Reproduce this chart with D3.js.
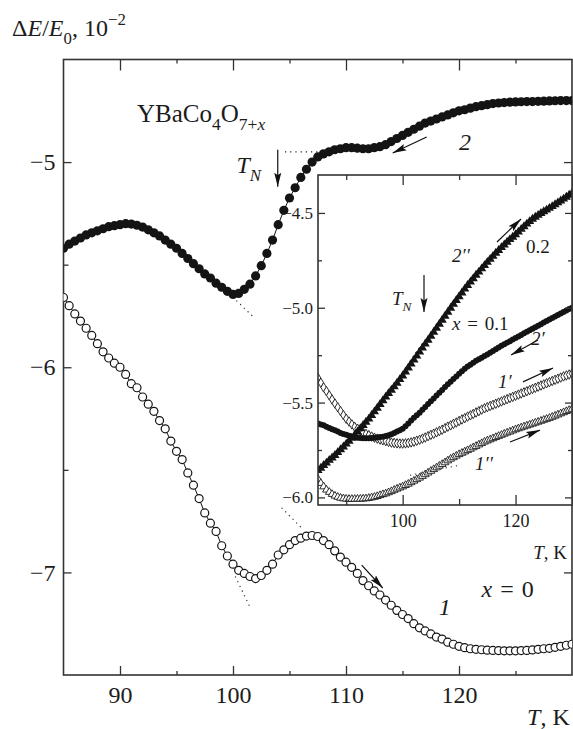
<!DOCTYPE html>
<html><head><meta charset="utf-8">
<script src="https://cdn.jsdelivr.net/npm/d3@7"></script>
<style>
body{margin:0;background:#fff}
svg{display:block}
text{font-family:"Liberation Serif","Times New Roman",serif;fill:#1c1c1c}
</style>
</head><body>
<svg id="c" width="573" height="729"></svg>
<script>
// ---------- data ----------
const temps = [85,85.5,86,86.5,87,87.5,88,88.5,89,89.5,90,90.5,91,91.5,92,92.5,93,93.5,94,94.5,
  95,95.5,96,96.5,97,97.5,98,98.5,99,99.5,100,100.5,101,101.5,102,102.5,103,103.5,104,104.5,
  105,105.5,106,106.5,107,107.5,108,108.5,109,109.5,110,110.5,111,111.5,112,112.5,113,113.5,114,114.5,
  115,115.5,116,116.5,117,117.5,118,118.5,119,119.5,120,120.5,121,121.5,122,122.5,123,123.5,124,124.5,
  125,125.5,126,126.5,127,127.5,128,128.5,129,129.5,130];

// main panel, x = 0
const curve2 = [-5.42,-5.40,-5.385,-5.37,-5.355,-5.345,-5.335,-5.325,-5.315,-5.31,
  -5.305,-5.30,-5.302,-5.308,-5.317,-5.33,-5.345,-5.36,-5.38,-5.40,
  -5.42,-5.445,-5.47,-5.495,-5.52,-5.545,-5.565,-5.59,-5.61,-5.63,
  -5.645,-5.64,-5.62,-5.595,-5.555,-5.505,-5.445,-5.38,-5.305,-5.235,
  -5.175,-5.125,-5.075,-5.035,-5.00,-4.975,-4.96,-4.95,-4.94,-4.935,
  -4.93,-4.93,-4.932,-4.935,-4.935,-4.93,-4.925,-4.915,-4.90,-4.885,
  -4.87,-4.855,-4.84,-4.825,-4.81,-4.80,-4.79,-4.78,-4.77,-4.76,
  -4.75,-4.745,-4.737,-4.73,-4.725,-4.72,-4.715,-4.712,-4.71,-4.708,
  -4.707,-4.706,-4.705,-4.705,-4.704,-4.703,-4.702,-4.701,-4.70,-4.70,
  -4.70];
const curve1 = [-5.66,-5.70,-5.74,-5.775,-5.81,-5.845,-5.885,-5.925,-5.955,-5.98,
  -6.00,-6.035,-6.08,-6.10,-6.145,-6.18,-6.215,-6.26,-6.30,-6.36,
  -6.41,-6.45,-6.515,-6.575,-6.64,-6.71,-6.76,-6.80,-6.87,-6.92,
  -6.96,-6.99,-7.005,-7.02,-7.03,-7.015,-6.99,-6.96,-6.915,-6.89,
  -6.865,-6.845,-6.833,-6.823,-6.82,-6.825,-6.845,-6.865,-6.895,-6.925,
  -6.95,-6.975,-7.005,-7.04,-7.065,-7.09,-7.11,-7.135,-7.16,-7.185,
  -7.205,-7.225,-7.25,-7.27,-7.285,-7.30,-7.315,-7.325,-7.34,-7.35,
  -7.36,-7.367,-7.372,-7.375,-7.377,-7.379,-7.38,-7.381,-7.382,-7.382,
  -7.382,-7.381,-7.38,-7.378,-7.375,-7.372,-7.37,-7.365,-7.36,-7.355,
  -7.35];

// inset panel
const inset2pp = [-5.858,-5.845,-5.831,-5.818,-5.804,-5.791,-5.778,-5.763,-5.748,-5.733,
  -5.718,-5.703,-5.687,-5.671,-5.654,-5.637,-5.62,-5.603,-5.586,-5.567,
  -5.548,-5.529,-5.509,-5.489,-5.47,-5.452,-5.434,-5.416,-5.397,-5.378,
  -5.359,-5.338,-5.317,-5.296,-5.275,-5.254,-5.233,-5.212,-5.191,-5.17,
  -5.149,-5.128,-5.107,-5.086,-5.065,-5.044,-5.023,-5.002,-4.981,-4.961,
  -4.941,-4.921,-4.901,-4.882,-4.864,-4.846,-4.828,-4.811,-4.794,-4.777,
  -4.76,-4.744,-4.728,-4.712,-4.697,-4.682,-4.668,-4.654,-4.64,-4.627,
  -4.614,-4.6,-4.586,-4.572,-4.558,-4.545,-4.532,-4.522,-4.512,-4.502,
  -4.493,-4.484,-4.475,-4.466,-4.456,-4.446,-4.436,-4.426,-4.416,-4.406,
  -4.396];
const inset2p = [-5.61,-5.615,-5.62,-5.627,-5.634,-5.64,-5.646,-5.653,-5.66,-5.665,
  -5.67,-5.675,-5.68,-5.683,-5.685,-5.687,-5.688,-5.688,-5.688,-5.687,
  -5.686,-5.684,-5.682,-5.68,-5.676,-5.672,-5.667,-5.66,-5.653,-5.646,
  -5.638,-5.625,-5.61,-5.595,-5.58,-5.567,-5.553,-5.538,-5.523,-5.508,
  -5.493,-5.478,-5.463,-5.448,-5.433,-5.418,-5.403,-5.39,-5.376,-5.362,
  -5.348,-5.335,-5.322,-5.31,-5.30,-5.29,-5.28,-5.272,-5.263,-5.255,
  -5.246,-5.237,-5.228,-5.219,-5.21,-5.20,-5.192,-5.184,-5.176,-5.168,
  -5.16,-5.152,-5.143,-5.135,-5.127,-5.119,-5.111,-5.103,-5.095,-5.087,
  -5.078,-5.07,-5.062,-5.054,-5.046,-5.038,-5.03,-5.022,-5.014,-5.007,
  -5.00];
const inset1p = [-5.37,-5.395,-5.42,-5.44,-5.462,-5.484,-5.505,-5.525,-5.545,-5.566,
  -5.585,-5.60,-5.615,-5.628,-5.638,-5.648,-5.657,-5.665,-5.672,-5.679,
  -5.685,-5.69,-5.695,-5.699,-5.703,-5.707,-5.711,-5.713,-5.715,-5.716,
  -5.716,-5.715,-5.713,-5.71,-5.706,-5.701,-5.696,-5.69,-5.684,-5.677,
  -5.67,-5.664,-5.657,-5.65,-5.643,-5.635,-5.627,-5.62,-5.612,-5.605,
  -5.597,-5.589,-5.582,-5.574,-5.567,-5.56,-5.552,-5.545,-5.537,-5.53,
  -5.524,-5.518,-5.512,-5.506,-5.50,-5.494,-5.488,-5.482,-5.476,-5.47,
  -5.464,-5.458,-5.452,-5.446,-5.44,-5.434,-5.428,-5.422,-5.416,-5.41,
  -5.404,-5.398,-5.392,-5.386,-5.38,-5.374,-5.368,-5.362,-5.357,-5.352,
  -5.347];
const inset1pp = [-5.903,-5.925,-5.943,-5.96,-5.972,-5.983,-5.992,-5.998,-6.003,-6.006,
  -6.008,-6.009,-6.009,-6.009,-6.008,-6.008,-6.007,-6.006,-6.004,-6.001,
  -5.998,-5.994,-5.989,-5.984,-5.98,-5.974,-5.968,-5.961,-5.955,-5.949,
  -5.943,-5.936,-5.929,-5.921,-5.913,-5.905,-5.897,-5.888,-5.879,-5.87,
  -5.861,-5.852,-5.843,-5.834,-5.825,-5.816,-5.806,-5.797,-5.789,-5.781,
  -5.773,-5.766,-5.759,-5.752,-5.745,-5.737,-5.73,-5.722,-5.715,-5.707,
  -5.701,-5.695,-5.689,-5.683,-5.677,-5.671,-5.665,-5.659,-5.654,-5.648,
  -5.642,-5.637,-5.632,-5.627,-5.622,-5.617,-5.612,-5.607,-5.602,-5.597,
  -5.592,-5.587,-5.582,-5.576,-5.57,-5.564,-5.558,-5.552,-5.546,-5.54,
  -5.534];

const mainXTicks = [90,100,110,120];
const mainXMinor = [95,105,115,125];
const mainYTicks = [-5,-6,-7];
const mainYMinor = [-5.5,-6.5];
const insetXTicks = [100,120];
const insetXMinor = [90,110];
const insetYTicks = [-4.5,-5.0,-5.5,-6.0];
const insetYMinor = [-4.75,-5.25,-5.75];

// ---------- setup ----------
const svg = d3.select("#c");
const AX = "#333";
const x = d3.scaleLinear().domain([85,130]).range([63.5,572]);
const y = d3.scaleLinear().domain([-7.5,-4.5]).range([675,59.5]);
const xi = d3.scaleLinear().domain([85,130]).range([318,572]);
const yi = d3.scaleLinear().domain([-6.04,-4.3]).range([505,175]);

const defs = svg.append("defs");
defs.append("marker").attr("id","ah").attr("markerUnits","userSpaceOnUse")
  .attr("markerWidth",15).attr("markerHeight",9).attr("refX",14).attr("refY",4.5).attr("orient","auto")
  .append("path").attr("d","M0,1 L14,4.5 L0,8 L2.5,4.5 z").attr("fill","#111");
defs.append("clipPath").attr("id","cm").append("rect")
  .attr("x",x(85)).attr("y",y(-4.5)).attr("width",x(130)-x(85)).attr("height",y(-7.5)-y(-4.5));
defs.append("clipPath").attr("id","ci").append("rect")
  .attr("x",xi(85)).attr("y",yi(-4.3)).attr("width",xi(130)-xi(85)).attr("height",yi(-6.04)-yi(-4.3));

function rich(g, px, py, parts, fs, anchor){
  const t = g.append("text").attr("x",px).attr("y",py).attr("font-size",fs)
    .attr("text-anchor",anchor||"start");
  let cur = 0;
  parts.forEach(p=>{
    const off = p.sub ? fs*0.32 : (p.sup ? -fs*0.45 : 0);
    const ts = t.append("tspan").attr("dy", off-cur).text(p.t);
    cur = off;
    if (p.it) ts.attr("font-style","italic");
    if (p.sub||p.sup) ts.attr("font-size", fs*0.7);
  });
  return t;
}
function styleAxis(g){
  g.select(".domain").remove();
  g.selectAll(".tick line").attr("stroke",AX).attr("stroke-width",1.3);
  g.selectAll(".tick text").attr("fill","#1c1c1c").attr("font-family",'"Liberation Serif",serif');
}
const fmtMinus = d => (d<0?"\u2212":"") + Math.abs(d);

// ---------- main panel ----------
const gm = svg.append("g");
styleAxis(gm.append("g").attr("transform",`translate(0,${y(-7.5)})`)
  .call(d3.axisBottom(x).tickValues(mainXTicks).tickSize(-9).tickPadding(11).tickFormat(d=>d))
  .attr("font-size",24));
styleAxis(gm.append("g").attr("transform",`translate(0,${y(-7.5)})`)
  .call(d3.axisBottom(x).tickValues(mainXMinor).tickSize(-4).tickFormat("")));
styleAxis(gm.append("g").attr("transform",`translate(0,${y(-4.5)})`)
  .call(d3.axisTop(x).tickValues(mainXTicks).tickSize(-11).tickFormat("")));
styleAxis(gm.append("g").attr("transform",`translate(0,${y(-4.5)})`)
  .call(d3.axisTop(x).tickValues(mainXMinor).tickSize(-4).tickFormat("")));
styleAxis(gm.append("g").attr("transform",`translate(${x(85)},0)`)
  .call(d3.axisLeft(y).tickValues(mainYTicks).tickSize(-8).tickPadding(8).tickFormat(fmtMinus))
  .attr("font-size",24));
styleAxis(gm.append("g").attr("transform",`translate(${x(85)},0)`)
  .call(d3.axisLeft(y).tickValues(mainYMinor).tickSize(-5).tickFormat("")));
styleAxis(gm.append("g").attr("transform",`translate(${x(130)},0)`)
  .call(d3.axisRight(y).tickValues(mainYTicks).tickSize(-8).tickFormat("")));
styleAxis(gm.append("g").attr("transform",`translate(${x(130)},0)`)
  .call(d3.axisRight(y).tickValues(mainYMinor).tickSize(-5).tickFormat("")));
gm.append("rect").attr("x",x(85)).attr("y",y(-4.5)).attr("width",x(130)-x(85))
  .attr("height",y(-7.5)-y(-4.5)).attr("fill","none").attr("stroke",AX).attr("stroke-width",1.6);

const line = (sx,sy)=>d3.line().x(d=>sx(d[0])).y(d=>sy(d[1]));
const d2 = temps.map((t,i)=>[t,curve2[i]]);
const d1 = temps.map((t,i)=>[t,curve1[i]]);
const gc = gm.append("g").attr("clip-path","url(#cm)");
gc.append("path").attr("d",line(x,y)(d2)).attr("fill","none").attr("stroke","#111").attr("stroke-width",1);
gc.append("path").attr("d",line(x,y)(d1)).attr("fill","none").attr("stroke","#111").attr("stroke-width",1);
gc.selectAll("circle.c2").data(d2).join("circle").attr("class","c2")
  .attr("cx",d=>x(d[0])).attr("cy",d=>y(d[1])).attr("r",4.6).attr("fill","#141414");
gc.selectAll("circle.c1").data(d1).join("circle").attr("class","c1")
  .attr("cx",d=>x(d[0])).attr("cy",d=>y(d[1])).attr("r",4).attr("fill","#fff")
  .attr("stroke","#141414").attr("stroke-width",1.2);

// dotted guides (main)
const dots = (g,sx,sy,a,b)=>g.append("line").attr("x1",sx(a[0])).attr("y1",sy(a[1]))
  .attr("x2",sx(b[0])).attr("y2",sy(b[1])).attr("stroke","#222").attr("stroke-width",1.1)
  .attr("stroke-dasharray","1.2,4");
dots(gm,x,y,[104.6,-4.95],[107.6,-4.95]);
dots(gm,x,y,[100.3,-5.675],[101.9,-5.76]);
dots(gm,x,y,[100.2,-7.02],[101.6,-7.18]);
dots(gm,x,y,[104.3,-6.685],[106.1,-6.785]);

// arrows (main)
const arrow = (g,sx,sy,a,b)=>g.append("line").attr("x1",sx(a[0])).attr("y1",sy(a[1]))
  .attr("x2",sx(b[0])).attr("y2",sy(b[1])).attr("stroke","#111").attr("stroke-width",1.2)
  .attr("marker-end","url(#ah)");
arrow(gm,x,y,[103.96,-4.94],[103.96,-5.12]);
arrow(gm,x,y,[117.14,-4.878],[114.13,-4.956]);
arrow(gm,x,y,[111.39,-6.964],[113.25,-7.076]);

// labels (main)
rich(gm, x(80.45), y(-4.385), [{t:"\u0394"},{t:"E",it:1},{t:"/"},{t:"E",it:1},{t:"0",sub:1},{t:", 10"},{t:"\u22122",sup:1}], 24);
rich(gm, x(91.5), y(-4.805), [{t:"YBaCo"},{t:"4",sub:1},{t:"O"},{t:"7+",sub:1},{t:"x",sub:1,it:1}], 25);
rich(gm, x(100.3), y(-5.053), [{t:"T",it:1},{t:"N",it:1,sub:1}], 24);
rich(gm, x(120.0), y(-4.941), [{t:"2",it:1}], 24);
rich(gm, x(118.2), y(-7.207), [{t:"1",it:1}], 24);
rich(gm, x(122.0), y(-7.12), [{t:"x",it:1},{t:" = 0"}], 24).attr("word-spacing",2);
rich(gm, x(129.8), y(-7.745), [{t:"T",it:1},{t:", K"}], 24, "end");

// ---------- inset ----------
const gi = svg.append("g");
gi.append("rect").attr("x",xi(85)).attr("y",yi(-4.3)).attr("width",xi(130)-xi(85))
  .attr("height",yi(-6.04)-yi(-4.3)).attr("fill","#fff");
const gic = gi.append("g").attr("clip-path","url(#ci)");
const pts = arr => temps.map((t,i)=>[t,arr[i]]);
const sym = (type,size)=>d3.symbol().type(type).size(size)();
gic.selectAll("path.s1pp").data(pts(inset1pp)).join("path").attr("class","s1pp")
  .attr("transform",d=>`translate(${xi(d[0])},${yi(d[1])})`).attr("d",sym(d3.symbolTriangle,26))
  .attr("fill","#fff").attr("stroke","#1a1a1a").attr("stroke-width",0.9);
gic.selectAll("path.s1p").data(pts(inset1p)).join("path").attr("class","s1p")
  .attr("transform",d=>`translate(${xi(d[0])},${yi(d[1])})`).attr("d",sym(d3.symbolDiamond,26))
  .attr("fill","#fff").attr("stroke","#1a1a1a").attr("stroke-width",0.9);
gic.selectAll("circle.s2p").data(pts(inset2p)).join("circle").attr("class","s2p")
  .attr("cx",d=>xi(d[0])).attr("cy",d=>yi(d[1])).attr("r",3).attr("fill","#141414");
gic.selectAll("path.s2pp").data(pts(inset2pp)).join("path").attr("class","s2pp")
  .attr("transform",d=>`translate(${xi(d[0])},${yi(d[1])})`).attr("d",sym(d3.symbolTriangle,36))
  .attr("fill","#141414");

// inset axes
styleAxis(gi.append("g").attr("transform",`translate(0,${yi(-6.04)})`)
  .call(d3.axisBottom(xi).tickValues(insetXTicks).tickSize(-10).tickPadding(9).tickFormat(d=>d))
  .attr("font-size",18));
styleAxis(gi.append("g").attr("transform",`translate(0,${yi(-6.04)})`)
  .call(d3.axisBottom(xi).tickValues(insetXMinor).tickSize(-6).tickFormat("")));
styleAxis(gi.append("g").attr("transform",`translate(0,${yi(-4.3)})`)
  .call(d3.axisTop(xi).tickValues(insetXTicks).tickSize(-10).tickFormat("")));
styleAxis(gi.append("g").attr("transform",`translate(0,${yi(-4.3)})`)
  .call(d3.axisTop(xi).tickValues(insetXMinor).tickSize(-5).tickFormat("")));
styleAxis(gi.append("g").attr("transform",`translate(${xi(85)},0)`)
  .call(d3.axisLeft(yi).tickValues(insetYTicks).tickSize(-7).tickPadding(5).tickFormat(d3.format(".1f")))
  .attr("font-size",17));
styleAxis(gi.append("g").attr("transform",`translate(${xi(85)},0)`)
  .call(d3.axisLeft(yi).tickValues(insetYMinor).tickSize(-4).tickFormat("")));
styleAxis(gi.append("g").attr("transform",`translate(${xi(130)},0)`)
  .call(d3.axisRight(yi).tickValues(insetYTicks).tickSize(-7).tickFormat("")));
styleAxis(gi.append("g").attr("transform",`translate(${xi(130)},0)`)
  .call(d3.axisRight(yi).tickValues(insetYMinor).tickSize(-4).tickFormat("")));
gi.append("rect").attr("x",xi(85)).attr("y",yi(-4.3)).attr("width",xi(130)-xi(85))
  .attr("height",yi(-6.04)-yi(-4.3)).attr("fill","none").attr("stroke",AX).attr("stroke-width",1.6);

// inset guides, arrows, labels
dots(gi,xi,yi,[101.2,-5.285],[103.9,-5.17]);
dots(gi,xi,yi,[101.3,-5.883],[110.1,-5.83]);
arrow(gi,xi,yi,[103.78,-4.827],[103.78,-5.022]);
arrow(gi,xi,yi,[116.71,-4.653],[120.97,-4.532]);
arrow(gi,xi,yi,[123.98,-5.17],[119.2,-5.249]);
arrow(gi,xi,yi,[121.32,-5.391],[126.64,-5.318]);
arrow(gi,xi,yi,[119.02,-5.708],[124.33,-5.645]);
rich(gi, xi(108.74), yi(-4.759), [{t:"2\u2032\u2032",it:1}], 19);
rich(gi, xi(121.85), yi(-4.711), [{t:"0.2"}], 19);
rich(gi, xi(98.11), yi(-4.985), [{t:"T",it:1},{t:"N",it:1,sub:1}], 19);
rich(gi, xi(108.74), yi(-5.117), [{t:"x",it:1},{t:" = 0.1"}], 19).attr("word-spacing",2);
rich(gi, xi(122.74), yi(-5.196), [{t:"2\u2032",it:1}], 19);
rich(gi, xi(116.89), yi(-5.423), [{t:"1\u2032",it:1}], 19);
rich(gi, xi(112.82), yi(-5.855), [{t:"1\u2032\u2032",it:1}], 19);
rich(gi, xi(129.12), yi(-6.325), [{t:"T",it:1},{t:", K"}], 19, "end");
</script>
</body></html>
